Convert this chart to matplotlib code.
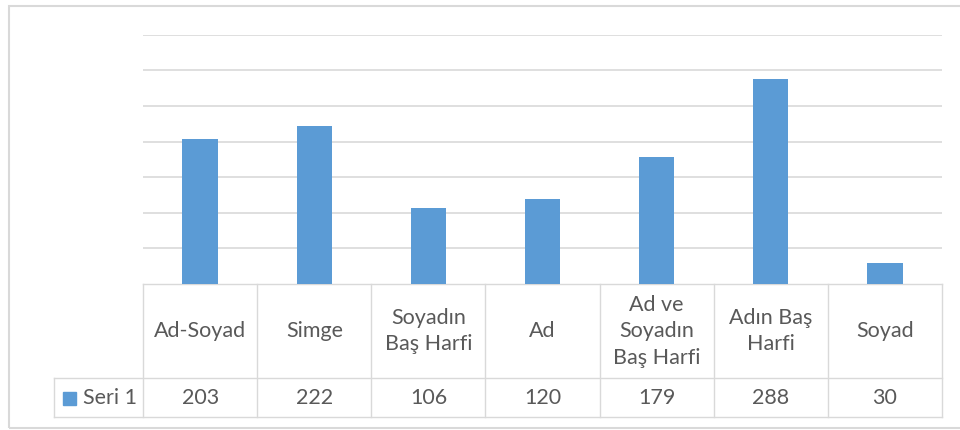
import matplotlib.pyplot as plt
import matplotlib.transforms as mtransforms
from matplotlib.patches import Rectangle

# veri
kategoriler = ["Ad-Soyad", "Simge", "Soyadın\nBaş Harfi", "Ad",
               "Ad ve\nSoyadın\nBaş Harfi", "Adın Baş\nHarfi", "Soyad"]
degerler = [203, 222, 106, 120, 179, 288, 30]
seri_adi = "Seri 1"
y_ticks = [50, 100, 150, 200, 250, 300, 350]

plt.rcParams['font.family'] = ['Lato', 'DejaVu Sans']
renk_bar = '#5B9BD5'
renk_yazi = '#595959'
renk_cizgi = '#d9d9d9'
fs = 15.5

W, H = 960, 430
fig = plt.figure(figsize=(W / 100, H / 100), dpi=100)

# cizim alani (piksel olcumlerinden)
x0, x1 = 143.3, 941.7
y_base, y_top = 284, 34.7
ax = fig.add_axes([x0 / W, (H - y_base) / H, (x1 - x0) / W, (y_base - y_top) / H])

n = len(kategoriler)
xs = list(range(n))
ax.bar(xs, degerler, width=0.313, color=renk_bar, zorder=3)
ax.set_xlim(-0.5, n - 0.5)
ax.set_ylim(0, 350)
for t in y_ticks:
    ax.axhline(t, color=renk_cizgi, lw=1.2, zorder=1)
for s in ax.spines.values():
    s.set_visible(False)
ax.set_xticks([])
ax.set_yticks([])

# tablo: x veri, y eksen orani
tr = mtransforms.blended_transform_factory(ax.transData, ax.transAxes)
ph = y_base - y_top


def fy(py):
    return (y_base - py) / ph


col_w_px = (x1 - x0) / n
leg_left = -0.5 + (54.3 - x0) / col_w_px
r0, r1, r2 = fy(284), fy(378.3), fy(416.7)

lkw = dict(color=renk_cizgi, lw=1.0, transform=tr, clip_on=False, zorder=2)
ax.plot([-0.5, n - 0.5], [r0, r0], **lkw)
ax.plot([leg_left, n - 0.5], [r1, r1], **lkw)
ax.plot([leg_left, n - 0.5], [r2, r2], **lkw)
ax.plot([leg_left, leg_left], [r1, r2], **lkw)
for i in range(n + 1):
    ax.plot([i - 0.5, i - 0.5], [r0, r2], **lkw)

for i, (k, v) in enumerate(zip(kategoriler, degerler)):
    ax.text(i, (r0 + r1) / 2, k, ha='center', va='center', fontsize=fs,
            color=renk_yazi, transform=tr, linespacing=1.4)
    ax.text(i, (r1 + r2) / 2, str(v), ha='center', va='center', fontsize=fs,
            color=renk_yazi, transform=tr)

# lejant hucresi
sq_x = -0.5 + (63.3 - x0) / col_w_px
sq_w = 12.7 / col_w_px
ax.add_patch(Rectangle((sq_x, fy(405)), sq_w, fy(391.7) - fy(405), color=renk_bar,
                       transform=tr, clip_on=False))
ax.text(-0.5 + (82.7 - x0) / col_w_px, (r1 + r2) / 2, seri_adi, ha='left', va='center',
        fontsize=fs, color=renk_yazi, transform=tr)

# dis cerceve
fig.add_artist(Rectangle((9 / W, 2 / H), 1.2, (428 - 6) / H, transform=fig.transFigure,
                         fill=False, edgecolor=renk_cizgi, lw=1.5))

fig.savefig('out.png', dpi=100)
